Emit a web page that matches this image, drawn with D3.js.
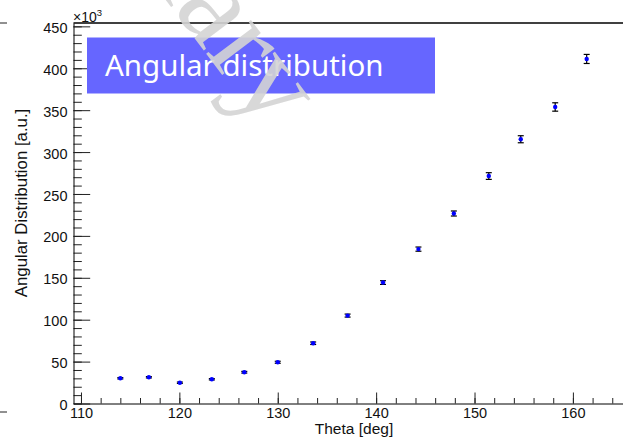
<!DOCTYPE html>
<html>
<head>
<meta charset="utf-8">
<script src="https://d3js.org/d3.v7.min.js"></script>
<style>
  * { margin: 0; padding: 0; }
  body { background: #fff; width: 623px; height: 439px; overflow: hidden; }
  svg { display: block; font-family: "Liberation Sans", Arial, sans-serif; }
  .tick text { font-size: 14.5px; fill: #111; }
  .domain { stroke: #000; }
  .tick line { stroke: #222; }
</style>
</head>
<body>
<div id="chart"></div>
<script>
// data (values in units of 10^3)
var theta = [114.0, 116.9, 120.05, 123.3, 126.6, 130.0, 133.6, 137.1, 140.7, 144.3, 147.9, 151.45, 154.7, 158.2, 161.4];
var dist  = [30.1, 31.3, 24.8, 28.9, 37.3, 49.2, 71.9, 104.9, 144.3, 184.2, 226.7, 271.4, 315.3, 353.8, 411.1];
var distErr = [0.8, 0.8, 0.8, 0.8, 1.0, 1.2, 1.5, 1.8, 2.2, 2.5, 3.0, 4.0, 4.2, 5.0, 5.4];

var xMajor = [110, 120, 130, 140, 150, 160];
var yMajor = [0, 50, 100, 150, 200, 250, 300, 350, 400, 450];

var W = 623, H = 439;
var padL = 73.5, padB = 403.5, padT = 23;

var svg = d3.select('#chart').append('svg')
  .attr('width', W)
  .attr('height', H);

var x = d3.scaleLinear().domain([109.24, 165.6]).range([padL, 628]);
var y = d3.scaleLinear().domain([0, 454]).range([padB, padT]);

// minor ticks
svg.append('g')
  .attr('transform', 'translate(0,' + padB + ')')
  .call(d3.axisBottom(x).tickValues(d3.range(110, 166, 2)).tickSizeInner(-5.5).tickSizeOuter(0).tickFormat(''))
  .call(function(g){ g.select('.domain').remove(); });

svg.append('g')
  .attr('transform', 'translate(' + padL + ',0)')
  .call(d3.axisLeft(y).tickValues(d3.range(0, 451, 10)).tickSizeInner(-8.3).tickSizeOuter(0).tickFormat(''))
  .call(function(g){ g.select('.domain').remove(); });

// major axes
svg.append('g')
  .attr('transform', 'translate(0,' + padB + ')')
  .call(d3.axisBottom(x).tickValues(xMajor).tickSizeInner(-11).tickSizeOuter(0).tickPadding(4));

svg.append('g')
  .attr('transform', 'translate(' + padL + ',0)')
  .call(d3.axisLeft(y).tickValues(yMajor).tickSizeInner(-16.7).tickSizeOuter(0).tickPadding(6))
  .call(function(g){ g.selectAll('.tick text').attr('dy', '0.42em'); });

// top frame line
svg.append('line')
  .attr('x1', padL).attr('x2', W)
  .attr('y1', padT).attr('y2', padT)
  .attr('stroke', '#000').attr('stroke-width', 1.6);

// exponent
var ex = svg.append('text').attr('x', 73).attr('y', 21.5).attr('font-size', 14).attr('fill', '#111');
ex.append('tspan').text('\u00d710');
ex.append('tspan').attr('font-size', 9.5).attr('dy', -5.5).text('3');

// axis titles
svg.append('text')
  .attr('x', 354).attr('y', 434)
  .attr('text-anchor', 'middle')
  .attr('font-size', 15.5).attr('fill', '#111')
  .text('Theta [deg]');

svg.append('text')
  .attr('transform', 'translate(27,203) rotate(-90)')
  .attr('text-anchor', 'middle')
  .attr('font-size', 16.8).attr('fill', '#111')
  .text('Angular Distribution [a.u.]');

// crop marks at the left
svg.append('line').attr('x1', 0).attr('x2', 7).attr('y1', 23).attr('y2', 23).attr('stroke', '#222');
svg.append('line').attr('x1', 0).attr('x2', 7).attr('y1', 412).attr('y2', 412).attr('stroke', '#222');

// error bars
var pts = svg.append('g');
theta.forEach(function(t, i){
  var cx = x(t);
  var y1 = y(dist[i] + distErr[i]), y2 = y(dist[i] - distErr[i]);
  pts.append('line').attr('x1', cx).attr('x2', cx).attr('y1', y1).attr('y2', y2)
    .attr('stroke', '#000').attr('stroke-width', 1.2);
  pts.append('line').attr('x1', cx - 3).attr('x2', cx + 3).attr('y1', y1).attr('y2', y1)
    .attr('stroke', '#000').attr('stroke-width', 1.2);
  pts.append('line').attr('x1', cx - 3).attr('x2', cx + 3).attr('y1', y2).attr('y2', y2)
    .attr('stroke', '#000').attr('stroke-width', 1.2);
});

pts.selectAll('circle')
  .data(theta)
  .enter()
  .append('circle')
  .attr('cx', function(d){ return x(d); })
  .attr('cy', function(d, i){ return y(dist[i]); })
  .attr('r', 2.2)
  .attr('fill', '#0000ff');

// title box
svg.append('rect')
  .attr('x', 87).attr('y', 37.5)
  .attr('width', 348).attr('height', 56)
  .attr('fill', '#6666ff');

svg.append('text')
  .attr('x', 105).attr('y', 76)
  .attr('font-family', '"Noto Sans", sans-serif')
  .attr('font-size', 29.5)
  .attr('fill', '#fff')
  .text('Angular distribution');

// watermark
svg.append('text')
  .attr('transform', 'translate(266,133) rotate(53)')
  .attr('text-anchor', 'end')
  .attr('font-family', '"Liberation Serif", serif')
  .attr('font-size', 122)
  .attr('fill', '#d4d4d4')
  .attr('fill-opacity', 0.9)
  .text('Preliminary');
</script>
</body>
</html>
